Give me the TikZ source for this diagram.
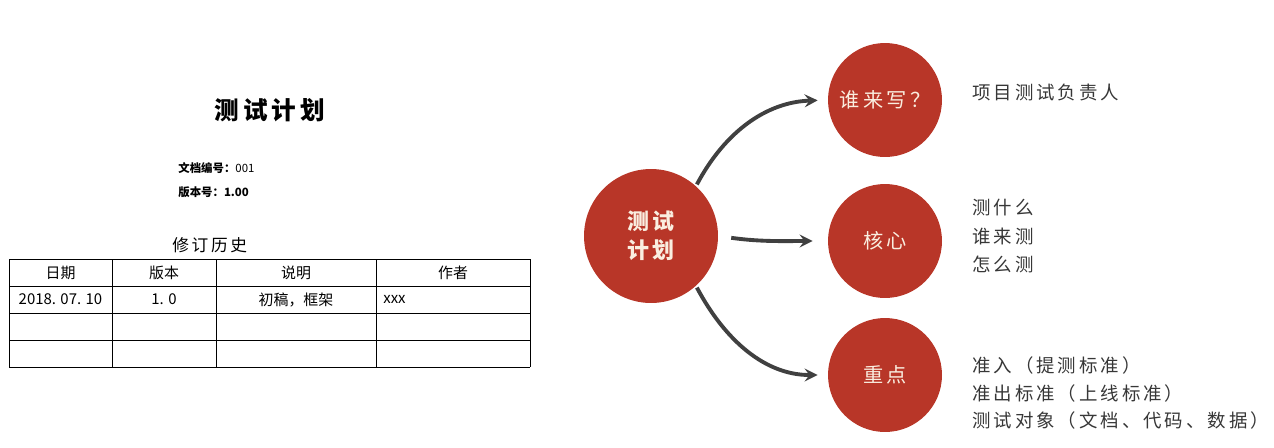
\documentclass[tikz,border=0pt]{standalone}
\usepackage{fontspec}
\setmainfont{Noto Sans CJK SC}
\newfontfamily\widecjk[LetterSpace=16]{Noto Sans CJK SC}
\usetikzlibrary{arrows, positioning}
\definecolor{planred}{RGB}{184,54,40}
\definecolor{pale}{RGB}{250,238,224}
\definecolor{arrowgray}{RGB}{64,64,64}
\definecolor{notegray}{RGB}{55,55,55}
\tikzstyle{arrow} = [line width=2.2pt,->,>=stealth,arrowgray]
\tikzstyle{topic} = [circle, fill=planred, text=pale, minimum size=2.28cm, font=\widecjk\fontsize{11.5}{14}\selectfont]
\tikzstyle{note} = [anchor=west, align=left, inner sep=0pt, text=notegray, font=\widecjk\fontsize{10.5}{16.5}\selectfont]
\tikzstyle{cell} = [inner sep=0pt, font=\fontsize{8.5}{10}\selectfont]

\begin{document}
\begin{tikzpicture}[x=0.02cm, y=-0.02cm]
  \useasboundingbox (0,0) rectangle (1274,447);

  % document page on the left
  \node (title) at (270,110) {\widecjk\bfseries\fontsize{14}{16}\selectfont 测试计划};
  \node (docno) [anchor=west, inner sep=0pt, font=\fontsize{6.5}{8}\selectfont] at (178,168) {\textbf{文档编号：}001};
  \node (verno) [anchor=west, inner sep=0pt, font=\bfseries\fontsize{6.5}{8}\selectfont] at (178,192) {版本号：1.00};
  \node (history) [anchor=west, inner sep=0pt, font=\widecjk\fontsize{9.5}{11}\selectfont] at (172,245) {修订历史};

  % revision table
  \foreach \y in {259,286,313,340,367}
    \draw[line width=0.55pt] (9,\y) -- (530,\y);
  \foreach \x in {9,112,216,376,530}
    \draw[line width=0.55pt] (\x,259) -- (\x,367);
  \node (hdate) [cell] at (60.5,272.5) {日期};
  \node (hver) [cell] at (164,272.5) {版本};
  \node (hnote) [cell] at (296,272.5) {说明};
  \node (hauthor) [cell] at (453,272.5) {作者};
  \node (date) [cell] at (60.5,299.5) {2018. 07. 10};
  \node (ver) [cell] at (164,299.5) {1. 0};
  \node (note) [cell] at (296,299.5) {初稿，框架};
  \node (author) [cell, anchor=west] at (383,299.5) {xxx};

  % mind map
  \node (plan) [topic, minimum size=2.68cm, align=center, font=\widecjk\bfseries\fontsize{12.5}{16.5}\selectfont] at (651,236) {测试\\计划};
  \node (who) [topic] at (885,100) {谁来写？};
  \node (core) [topic] at (885,241) {核心};
  \node (focus) [topic] at (885,375) {重点};

  \draw[arrow, shorten <=1pt, shorten >=0.2cm] (plan.48) to[out=62, in=182] (who.west);
  \draw[arrow, shorten <=0.26cm, shorten >=0.3cm] (plan.east) to[out=-8, in=180] (core.west);
  \draw[arrow, shorten <=1pt, shorten >=0.2cm] (plan.-48) to[out=-62, in=180] (focus.west);

  \node (whonote) [note] at (972,93) {项目测试负责人};
  \node (corenote) [note] at (972,236) {测什么\\谁来测\\怎么测};
  \node (focusnote) [note, font=\widecjk\fontsize{10.5}{15.4}\selectfont] at (972,393) {准入（提测标准）\\准出标准（上线标准）\\测试对象（文档、代码、数据）};
\end{tikzpicture}
\end{document}
